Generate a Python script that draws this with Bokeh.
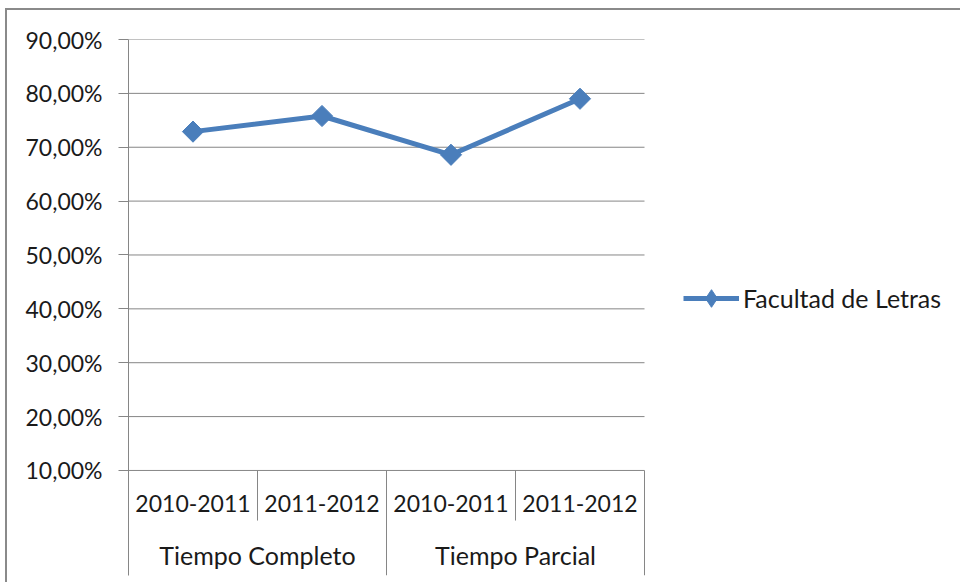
import math
from bokeh.plotting import figure
from bokeh.models import Range1d, FixedTicker, CustomJSTickFormatter, Legend, LegendItem
from bokeh.core.properties import value
from bokeh.embed import file_html
from bokeh.resources import INLINE

# ---- data ----
groups = ["Tiempo Completo", "Tiempo Completo", "Tiempo Parcial", "Tiempo Parcial"]
periods = ["2010-2011", "2011-2012", "2010-2011", "2011-2012"]
values = [0.729, 0.758, 0.686, 0.790]
series_name = "Facultad de Letras"
y_ticks = [0.1, 0.2, 0.3, 0.4, 0.5, 0.6, 0.7, 0.8, 0.9]

FONT = "Lato"
FS = "23px"
FS_WORDS = "25px"
BLUE = "#4A7EBB"
GRID = "#868686"
TXT = "#1a1a1a"

W, H = 960, 582
LEFT, TOP, BOTTOM = 128, 39, 7
PLOT_W = 516  # width of the category area in px

n = len(values)
xs = [i + 0.5 for i in range(n)]
y_min = y_ticks[0]
y_max = y_ticks[-1]
y_bottom = -0.095
inner_sep_bottom = 0.007
period_label_y = 0.0387
group_label_y = -0.0578
x_end = n * (W - LEFT) / PLOT_W

p = figure(width=W, height=H, output_backend="svg", toolbar_location=None,
           x_range=Range1d(0, x_end), y_range=Range1d(y_bottom, y_max),
           x_axis_location=None,
           min_border_left=LEFT, min_border_right=0, min_border_top=TOP, min_border_bottom=BOTTOM)
p.outline_line_color = None
p.border_fill_color = None
p.background_fill_color = None
p.styles = {
    "background": "linear-gradient(#8a8a8a,#8a8a8a) 5px 8px / 100% 2px no-repeat, "
                  "linear-gradient(#8a8a8a,#8a8a8a) 5px 8px / 2px 100% no-repeat"
}

p.xgrid.visible = False
p.ygrid.visible = False
# horizontal gridlines across the category area only
p.segment(x0=[0] * len(y_ticks), y0=y_ticks, x1=[n] * len(y_ticks), y1=y_ticks,
          line_color=GRID, line_width=1)

ax = p.yaxis[0]
ax.ticker = FixedTicker(ticks=y_ticks)
ax.formatter = CustomJSTickFormatter(code="return (tick*100).toFixed(2).replace('.', ',') + '%';")
ax.axis_line_color = GRID
ax.major_tick_line_color = GRID
ax.major_tick_in = 0
ax.major_tick_out = 10
ax.minor_tick_line_color = None
ax.major_label_standoff = 16
ax.major_label_text_font = FONT
ax.major_label_text_font_size = FS
ax.major_label_text_color = TXT

# category separators
group_names = []
for g in groups:
    if g not in group_names:
        group_names.append(g)
inner_x, outer_x = [], []
for i in range(1, n + 1):
    if i == n or groups[i] != groups[i - 1]:
        outer_x.append(i)
    else:
        inner_x.append(i)
p.segment(x0=inner_x, y0=[y_min] * len(inner_x), x1=inner_x, y1=[inner_sep_bottom] * len(inner_x),
          line_color=GRID, line_width=1)
p.segment(x0=outer_x, y0=[y_min] * len(outer_x), x1=outer_x, y1=[y_bottom] * len(outer_x),
          line_color=GRID, line_width=1)

# category labels
p.text(x=xs, y=[period_label_y] * n, text=periods, text_align="center", text_baseline="middle",
       text_font=value(FONT), text_font_size=FS, text_color=TXT)
group_x = [sum(xs[i] for i in range(n) if groups[i] == g) / groups.count(g) for g in group_names]
p.text(x=group_x, y=[group_label_y] * len(group_names), text=group_names, text_align="center",
       text_baseline="middle", text_font=value(FONT), text_font_size=FS_WORDS, text_color=TXT)

# series
lr = p.line(xs, values, line_color=BLUE, line_width=5)
sr = p.scatter(xs, values, marker="square", angle=math.pi / 4, size=15, color=BLUE)
# diamond used only for the legend swatch
dr = p.scatter(xs, values, marker="diamond", size=18, color=BLUE, visible=False)

GH = 44
legend = Legend(items=[LegendItem(label=series_name, renderers=[lr, dr])],
                location=(683 - LEFT, (H - BOTTOM) - 298 - GH // 2), padding=0, margin=0, spacing=0,
                glyph_width=56, glyph_height=GH, label_standoff=4,
                border_line_color=None, background_fill_alpha=0, inactive_fill_alpha=0,
                label_text_font=FONT, label_text_font_size=FS_WORDS, label_text_color=TXT)
p.add_layout(legend, "center")

open("out.html", "w").write(file_html(p, INLINE))
